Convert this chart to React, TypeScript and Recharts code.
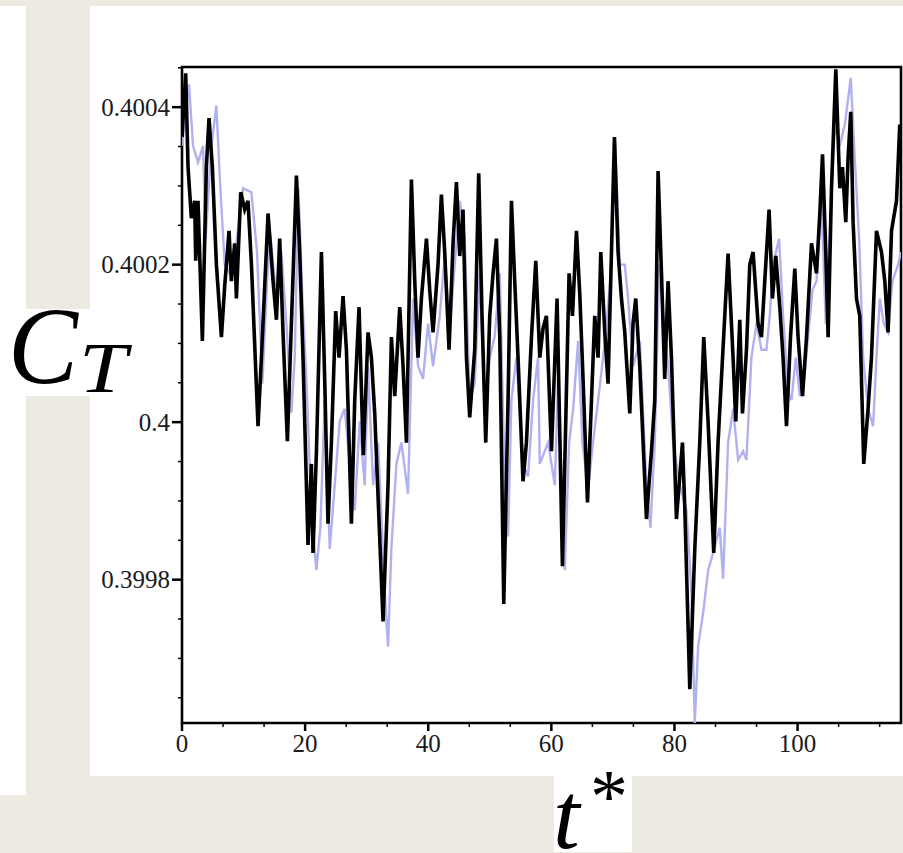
import { Line, LineChart, ReferenceArea, XAxis, YAxis } from "recharts";

// ─── data ────────────────────────────────────────────────────────
// black trace (t*, C_T)
const T_BLACK = [
  0, 0.6, 0.98, 1.52, 2.06, 2.23, 2.6, 3.31, 3.96, 4.39, 4.93, 5.59, 6.4, 6.94, 7.64, 8.02, 8.56, 8.84, 9.54, 10.19,
  10.72, 11.28, 12.35, 12.9, 13.98, 14.79, 15.34, 15.87, 16.41, 17.12, 17.77, 18.59, 19.12, 19.66, 20.47, 21.02, 21.28, 21.84, 22.65, 23.18,
  23.72, 24.27, 24.97, 25.51, 26.16, 26.71, 27.52, 28.06, 28.76, 29.45,
  30.22, 30.77, 31.31, 32.66, 33.47, 34.02, 34.56, 35.37, 35.91, 36.46, 37.27, 37.81, 38.34, 38.89, 39.71, 40.24, 40.78, 41.59, 42.14, 42.68,
  43.38, 44.03, 44.58, 45.12, 45.65, 46.21, 46.74, 47.55, 48.2, 48.74, 49.34, 49.99, 50.53, 51.08, 51.62, 52.27, 52.97, 53.52, 54.05, 54.59,
  55.4, 55.95, 56.77, 57.47, 58.12,
  58.65, 59.2, 60.02, 60.93, 61.8, 62.34, 62.88, 63.43, 64.08, 64.62, 65.15, 65.87, 66.52, 67.05, 67.59, 68.03, 68.68, 69.21, 70.25, 70.84,
  71.39, 71.93, 72.74, 73.27, 73.71, 74.36, 75.45, 76.26, 76.8, 77.34, 77.89, 78.42, 78.96, 79.51, 80.32, 80.86, 81.3, 81.67, 82.49, 83.3,
  84.11, 84.76, 85.46, 86.38, 87.08, 88.17,
  88.71, 89.52, 89.96, 90.61, 91.05, 91.7, 92.23, 92.77, 93.58, 94.13, 94.67, 95.37, 95.92, 96.46, 97.11, 97.64, 98.2, 98.85, 99.55, 100.08,
  100.8, 101.45, 102.26, 103.07, 103.61, 104.05, 104.58, 104.96, 105.51, 106.21, 106.86, 107.29, 107.83, 108.2, 108.64, 109.02, 109.57, 110.1, 110.75, 111.45,
  112.0, 112.82, 113.63, 114.17, 114.7, 115.26, 116.07, 116.6,
];
const C_BLACK = [
  0.400362, 0.400443, 0.400324, 0.400259, 0.400281, 0.400205, 0.400281, 0.400103, 0.400324, 0.400386,
  0.400324, 0.4002, 0.400108, 0.400173, 0.400243, 0.400179, 0.400227, 0.400157, 0.400292, 0.40027,
  0.400281, 0.4002, 0.399995, 0.400082, 0.400265, 0.400179, 0.40013, 0.400233, 0.400114, 0.399976,
  0.400125, 0.400313, 0.400216, 0.400082, 0.399844, 0.399947, 0.399834, 0.399963, 0.400216, 0.400055,
  0.399871, 0.399974, 0.400141, 0.400082, 0.40016, 0.400092, 0.399871, 0.400028, 0.400146, 0.399958,
  0.400114, 0.400082, 0.400011, 0.399747, 0.39992, 0.400108, 0.400033, 0.400146, 0.400071, 0.399974,
  0.400308, 0.400179, 0.400082, 0.400157, 0.400233, 0.400168, 0.400114, 0.4002, 0.400289, 0.400216,
  0.400092, 0.400227, 0.400305, 0.400211, 0.40027, 0.400082, 0.400006, 0.400092, 0.400316, 0.400135,
  0.399974, 0.400135, 0.400189, 0.400233, 0.400108, 0.399769, 0.400028, 0.400281, 0.400179, 0.400082,
  0.399925, 0.399974, 0.400108, 0.400205, 0.400082,
  0.400119, 0.400135, 0.399963, 0.400157, 0.399817, 0.400001, 0.400189, 0.400135, 0.400243, 0.400162,
  0.400055, 0.399898, 0.400028, 0.400135, 0.400082, 0.400216, 0.400114, 0.400049, 0.400362, 0.400216,
  0.400157, 0.400114, 0.400011, 0.400125, 0.400157, 0.400071, 0.399877, 0.399963, 0.400028, 0.400319,
  0.400189, 0.400055, 0.400179, 0.400082, 0.399877, 0.399931, 0.399974, 0.399893, 0.399661, 0.399839,
  0.399974, 0.400108, 0.400001, 0.399834, 0.399974, 0.400135,
  0.400214, 0.400082, 0.400001, 0.40013, 0.400011, 0.400092, 0.4002, 0.400216, 0.400125, 0.400108,
  0.400179, 0.40027, 0.400157, 0.400211, 0.400146, 0.400082, 0.399995, 0.400108, 0.400195, 0.400108,
  0.400033, 0.400108, 0.400227, 0.400189, 0.400265, 0.40034, 0.400216, 0.400108, 0.400297, 0.400448,
  0.400297, 0.400324, 0.400254, 0.400335, 0.400394, 0.400254, 0.400157, 0.400135, 0.399947, 0.400017,
  0.400082, 0.400243, 0.400216, 0.400179, 0.400114, 0.400243, 0.400281, 0.400378,
];

// light blue trace (t*, C_T)
const T_BLUE = [
  0, 1.14, 1.79, 2.6, 3.42, 3.85, 4.77, 5.58, 6.23, 6.94, 7.75, 8.83, 9.92, 11.27, 12.19, 13.06, 13.82, 14.36, 15.33, 16.14,
  16.96, 17.77, 18.31, 18.91, 19.56, 20.2, 21.02, 21.83, 22.48, 23.18, 24.0, 24.81, 25.62, 26.43, 27.25, 28.06, 28.87,
  29.68, 30.22, 31.04, 31.85, 32.93, 33.47, 34.01, 34.83, 35.64, 36.72, 37.54, 38.35, 39.16, 39.97, 40.78, 41.87, 42.68, 43.49, 44.3, 45.12,
  45.93, 46.74, 47.55, 48.37, 49.18, 49.99, 50.8, 51.62, 52.43, 52.97, 53.51, 54.32, 55.41, 56.22, 57.03, 57.84,
  58.12, 59.47, 60.56, 61.1, 62.18, 62.89, 63.54, 64.35, 65.05, 65.97, 66.77, 67.6, 68.41, 69.6, 70.36, 71.12, 71.93, 72.47, 73.28, 74.37,
  75.45, 76.1, 76.8, 77.51, 78.27, 78.97, 79.78, 80.87, 81.95, 82.76, 83.3, 83.84, 84.66, 85.47, 86.28, 87.36,
  87.9, 88.71, 89.53, 90.34, 91.15, 91.69, 92.5, 93.32, 94.13, 94.94, 95.48, 96.02, 97.0, 97.65, 98.46, 99.0, 99.71, 100.36, 101.01, 101.71,
  102.42, 103.07, 103.88, 104.58, 105.23, 106.04, 106.86, 107.67, 108.64, 109.29, 110.0, 110.65, 111.46, 112.27, 112.81, 113.36, 114.0, 114.71, 115.41, 116.33,
  116.8,
];
const C_BLUE = [
  0.400351, 0.400429, 0.400351, 0.40033, 0.400351, 0.400233, 0.400351, 0.400402, 0.400297, 0.4002,
  0.400189, 0.400227, 0.400297, 0.400292, 0.400216, 0.400049, 0.400179, 0.400238, 0.400157, 0.400216,
  0.400125, 0.400012, 0.400082, 0.400297, 0.400157, 0.400055, 0.399888, 0.399812, 0.399866, 0.400028,
  0.399839, 0.39992, 0.400001, 0.400017, 0.399947, 0.399888, 0.400001,
  0.39992, 0.400071, 0.39992, 0.399974, 0.399785, 0.399715, 0.399839, 0.399947, 0.399974, 0.399909,
  0.400157, 0.400071, 0.400055, 0.400125, 0.400071, 0.400135, 0.400211, 0.400114, 0.4002, 0.400281,
  0.400233, 0.400028, 0.400049, 0.400189, 0.400017, 0.400082, 0.400109, 0.400189, 0.39992, 0.399855,
  0.400028, 0.400082, 0.399947, 0.399931, 0.400028, 0.400082,
  0.399947, 0.399974, 0.39992, 0.400055, 0.399812, 0.399974, 0.400017, 0.400103, 0.399974, 0.399915,
  0.399974, 0.400028, 0.400082, 0.400179, 0.400357, 0.4002, 0.4002, 0.400157, 0.400071, 0.400103,
  0.39992, 0.399866, 0.399974, 0.4002, 0.400125, 0.400071, 0.399974, 0.39992, 0.399888, 0.399785,
  0.399618, 0.399715, 0.399758, 0.399812, 0.399834, 0.399866,
  0.399801, 0.399974, 0.400017, 0.399952, 0.399963, 0.399952, 0.400082, 0.400125, 0.400092, 0.400092,
  0.400135, 0.4002, 0.400233, 0.400135, 0.400039, 0.400028, 0.400082, 0.400033, 0.400049, 0.400109,
  0.400168, 0.400179, 0.400281, 0.400125, 0.400243, 0.400378, 0.400351, 0.400378, 0.400437, 0.400335,
  0.400233, 0.400082, 0.400017, 0.399995, 0.400082, 0.400157, 0.400125, 0.400114, 0.400179, 0.4002,
  0.400216,
];

// ─── axes ────────────────────────────────────────────────────────
const X_DOMAIN = [0, 116.8];
const Y_DOMAIN = [0.399618, 0.400451];
const X_MAJOR = [0, 20, 40, 60, 80, 100];
const X_MINOR = [6.667, 13.333, 26.667, 33.333, 46.667, 53.333, 66.667, 73.333, 86.667, 93.333, 106.667, 113.333];
const Y_MAJOR = [0.3998, 0.4, 0.4002, 0.4004];
const Y_LABELS = ["0.3998", "0.4", "0.4002", "0.4004"];
const Y_MINOR = [
  0.39965, 0.3997, 0.39975, 0.39985, 0.3999, 0.39995, 0.40005, 0.4001, 0.40015, 0.40025, 0.4003, 0.40035, 0.40045,
];

const SERIF = "'Liberation Serif', 'DejaVu Serif', serif";
const BEIGE = "#edeae1";

const blackData = T_BLACK.map((t, i) => ({ t, c: C_BLACK[i] }));
const blueData = T_BLUE.map((t, i) => ({ t, c: C_BLUE[i] }));

function majorIndex(list: number[], v: number) {
  return list.findIndex((m) => Math.abs(m - v) < 1e-9);
}

function YTick(props: any) {
  const { x, y, payload } = props;
  const idx = majorIndex(Y_MAJOR, payload.value);
  if (idx < 0) {
    return <line x1={x - 4} x2={x} y1={y} y2={y} stroke="#000" strokeWidth={1.5} />;
  }
  return (
    <g>
      <line x1={x - 10} x2={x} y1={y} y2={y} stroke="#000" strokeWidth={2.5} />
      <text x={x - 12} y={y} dy="0.35em" textAnchor="end" fontFamily={SERIF} fontSize={25} fill="#1a1a1a">
        {Y_LABELS[idx]}
      </text>
    </g>
  );
}

function XTick(props: any) {
  const { x, y, payload } = props;
  const idx = majorIndex(X_MAJOR, payload.value);
  if (idx < 0) {
    return <line x1={x} x2={x} y1={y} y2={y + 4} stroke="#000" strokeWidth={1.5} />;
  }
  return (
    <g>
      <line x1={x} x2={x} y1={y} y2={y + 8} stroke="#000" strokeWidth={2.5} />
      <text x={x} y={y + 29} textAnchor="middle" fontFamily={SERIF} fontSize={25} fill="#1a1a1a">
        {X_MAJOR[idx]}
      </text>
    </g>
  );
}

export default function App() {
  return (
    <div style={{ position: "fixed", left: 0, top: 0, width: 903, height: 853, background: BEIGE, overflow: "hidden" }}>
      {/* white panels */}
      <div style={{ position: "absolute", left: 0, top: 6, width: 26, height: 789, background: "#fff" }} />
      <div style={{ position: "absolute", left: 90, top: 6, width: 813, height: 770, background: "#fff" }} />
      <div style={{ position: "absolute", left: 0, top: 309, width: 130, height: 87, background: "#fff" }} />
      <div style={{ position: "absolute", left: 554, top: 776, width: 78, height: 76, background: "#fff" }} />

      <div style={{ position: "absolute", left: 90, top: 6 }}>
        <LineChart width={813} height={770} margin={{ top: 61, right: 2, bottom: 13, left: 0 }}>
          <XAxis
            dataKey="t"
            type="number"
            domain={X_DOMAIN}
            allowDataOverflow
            ticks={[...X_MAJOR, ...X_MINOR]}
            interval={0}
            axisLine={false}
            tickLine={false}
            tickSize={0}
            tickMargin={0}
            height={40}
            tick={<XTick />}
          />
          <YAxis
            type="number"
            domain={Y_DOMAIN}
            allowDataOverflow
            ticks={[...Y_MAJOR, ...Y_MINOR]}
            interval={0}
            axisLine={false}
            tickLine={false}
            tickSize={0}
            tickMargin={0}
            width={92}
            tick={<YTick />}
          />
          <Line
            data={blueData}
            dataKey="c"
            type="linear"
            stroke="#b1b1ef"
            strokeWidth={2.4}
            dot={false}
            isAnimationActive={false}
          />
          <Line
            data={blackData}
            dataKey="c"
            type="linear"
            stroke="#000"
            strokeWidth={3.6}
            strokeLinejoin="miter"
            dot={false}
            isAnimationActive={false}
          />
          <ReferenceArea
            x1={X_DOMAIN[0]}
            x2={X_DOMAIN[1]}
            y1={Y_DOMAIN[0]}
            y2={Y_DOMAIN[1]}
            fill="none"
            fillOpacity={0}
            stroke="#000"
            strokeWidth={2.6}
            ifOverflow="visible"
          />
        </LineChart>
      </div>

      {/* axis titles */}
      <svg width={903} height={853} style={{ position: "absolute", left: 0, top: 0, overflow: "visible", pointerEvents: "none" }}>
        <text x={8} y={383} fontFamily={SERIF} fontStyle="italic" fontSize={110} textLength={70} lengthAdjust="spacingAndGlyphs" fill="#000">
          C
        </text>
        <text x={79} y={392} fontFamily={SERIF} fontStyle="italic" fontSize={71} textLength={48} lengthAdjust="spacingAndGlyphs" fill="#000">
          T
        </text>
        <text x={553} y={848} fontFamily={SERIF} fontStyle="italic" fontSize={96} fill="#000">
          t
        </text>
        <text x={590} y={822} fontFamily={SERIF} fontSize={76} fill="#000">
          *
        </text>
      </svg>
    </div>
  );
}
